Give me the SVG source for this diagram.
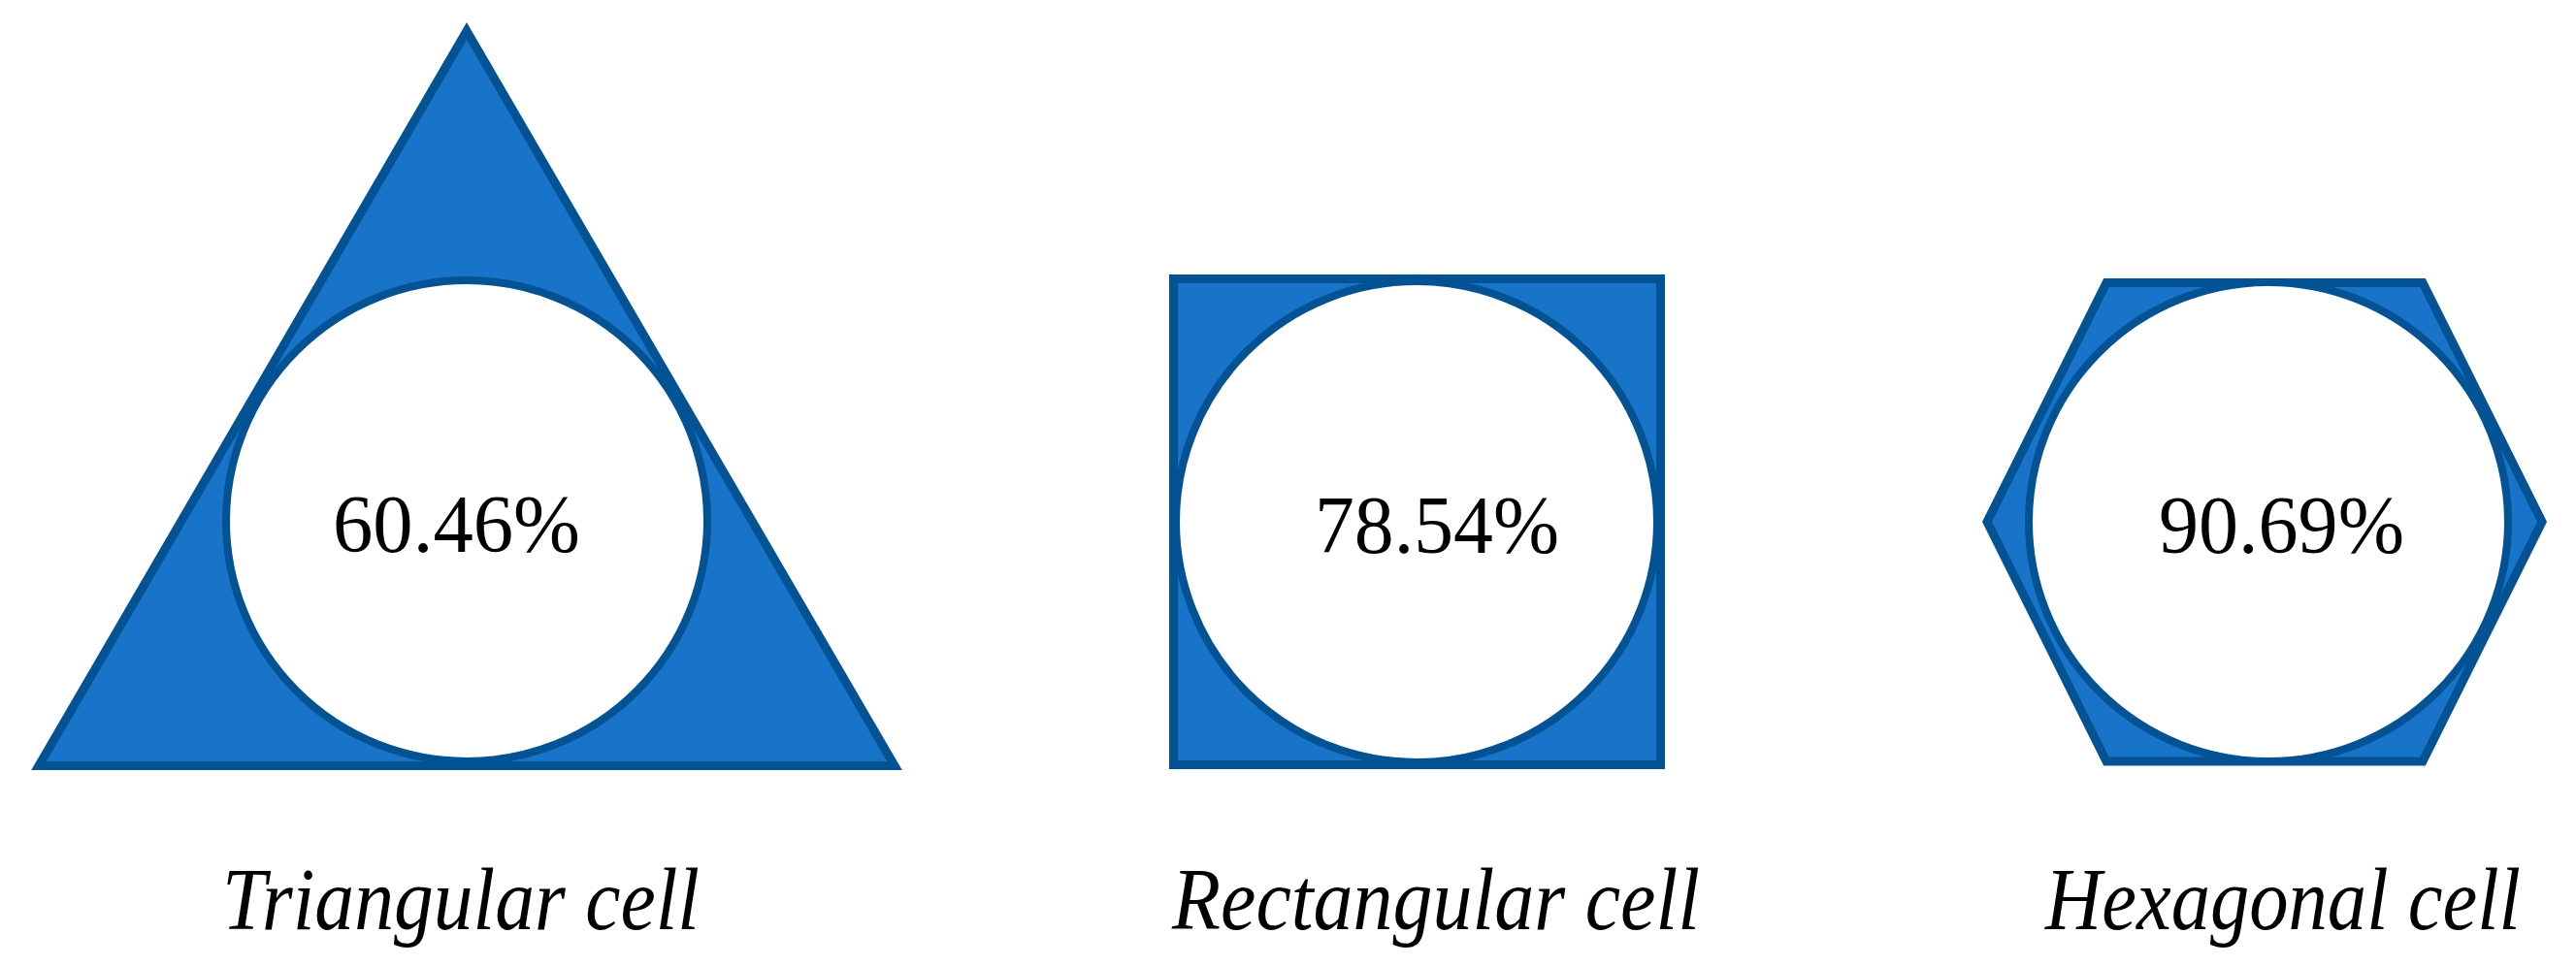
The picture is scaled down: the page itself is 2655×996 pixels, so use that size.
<svg xmlns="http://www.w3.org/2000/svg" width="2655" height="996" viewBox="0 0 2655 996">
<style>
.cell{fill:#1874C8;stroke:#035293;stroke-width:9;stroke-linejoin:miter}
.hole{fill:#ffffff;stroke:#035293;stroke-width:8}
.pct{font-family:"Liberation Serif","DejaVu Serif",serif;font-size:84px;fill:#000;text-anchor:start}
.lbl{font-family:"Liberation Serif","DejaVu Serif",serif;font-size:92px;font-style:italic;fill:#000}
</style>
<rect width="2655" height="996" fill="#ffffff"/>
<g id="triangular">
<polygon class="cell" points="481,32 922,789.5 40,789.5"/>
<circle class="hole" cx="481" cy="537" r="248"/>
<text class="pct" x="343" y="569" textLength="255" lengthAdjust="spacingAndGlyphs">60.46%</text>
<text class="lbl" x="229" y="958" textLength="492" lengthAdjust="spacingAndGlyphs">Triangular cell</text>
</g>
<g id="rectangular">
<rect class="cell" x="1209.5" y="287.5" width="502" height="501"/>
<circle class="hole" cx="1460" cy="538" r="248"/>
<text class="pct" x="1355" y="570" textLength="252" lengthAdjust="spacingAndGlyphs">78.54%</text>
<text class="lbl" x="1208" y="958" textLength="544" lengthAdjust="spacingAndGlyphs">Rectangular cell</text>
</g>
<g id="hexagonal">
<polygon class="cell" points="2171,291.5 2497,291.5 2620,538 2497,785 2171,785 2048,538"/>
<circle class="hole" cx="2338" cy="538" r="247"/>
<text class="pct" x="2225" y="570" textLength="253" lengthAdjust="spacingAndGlyphs">90.69%</text>
<text class="lbl" x="2108" y="958" textLength="490" lengthAdjust="spacingAndGlyphs">Hexagonal cell</text>
</g>
<g id="connectors"></g>
</svg>
